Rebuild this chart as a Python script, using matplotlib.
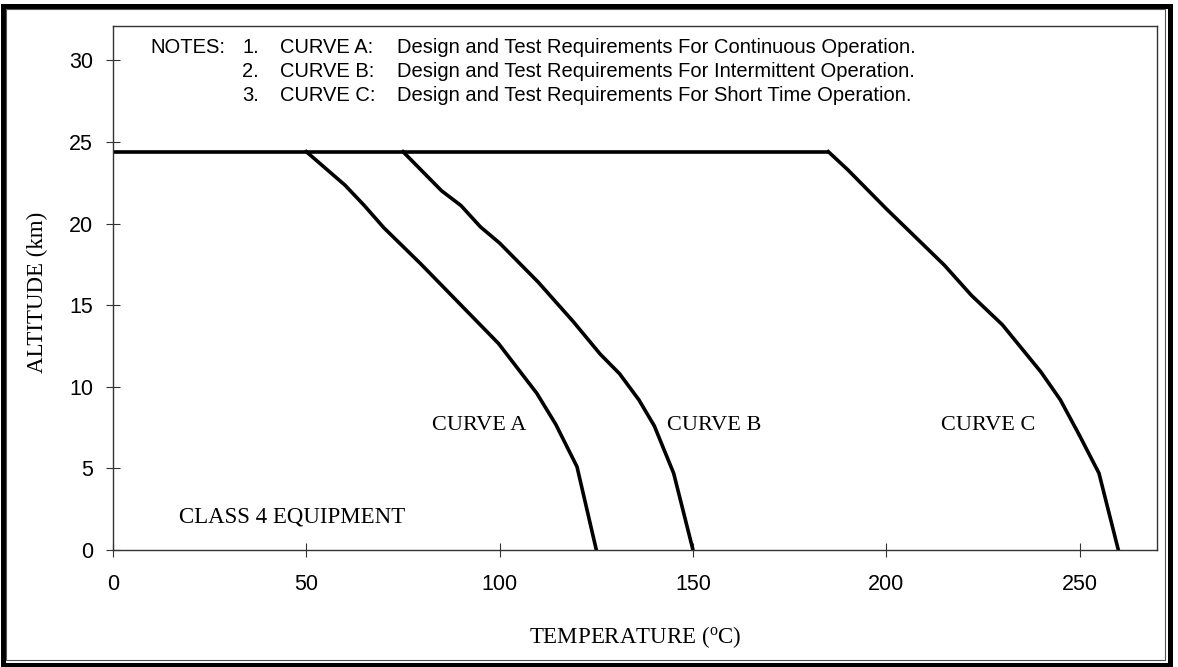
import matplotlib
matplotlib.use("Agg")
import matplotlib.pyplot as plt
from matplotlib.patches import Rectangle

# ---- data ----
plateau_alt = 24.4
plateau_temp = [0, 185]
curve_a_temp = [50, 60, 65, 70, 79.5, 99.7, 109.6, 114.5, 120, 125]
curve_a_alt = [24.4, 22.35, 21.1, 19.75, 17.55, 12.65, 9.6, 7.7, 5.1, 0]
curve_b_temp = [75, 80, 85, 90, 95, 100, 110, 119, 126, 131, 136, 140, 145, 150]
curve_b_alt = [24.4, 23.2, 22.0, 21.1, 19.8, 18.8, 16.4, 14.0, 12.0, 10.8, 9.2, 7.6, 4.7, 0]
curve_c_temp = [185, 190, 200, 215, 222, 230, 240, 245, 250, 255, 260]
curve_c_alt = [24.4, 23.3, 20.9, 17.45, 15.6, 13.8, 10.9, 9.2, 7.0, 4.7, 0]
x_ticks = [0, 50, 100, 150, 200, 250]
y_ticks = [0, 5, 10, 15, 20, 25, 30]
notes_num = ["1.", "2.", "3."]
notes_curve = ["CURVE A:", "CURVE B:", "CURVE C:"]
notes_text = ["Design and Test Requirements For Continuous Operation.",
              "Design and Test Requirements For Intermittent Operation.",
              "Design and Test Requirements For Short Time Operation."]

plt.rcParams['mathtext.fontset'] = 'custom'
plt.rcParams['mathtext.rm'] = 'Liberation Serif'

W, H = 1178, 667
fig = plt.figure(figsize=(W / 100, H / 100), dpi=100)
L, R, T, B = 113, 1157, 26, 550
ax = fig.add_axes([L / W, 1 - B / H, (R - L) / W, (B - T) / H])
ax.set_xlim(0, 270)
ax.set_ylim(0, 32.1)

lw = 2.6
ax.plot(plateau_temp, [plateau_alt, plateau_alt], color='black', lw=lw, solid_capstyle='butt', clip_on=False)
ax.plot(curve_a_temp, curve_a_alt, color='black', lw=lw, solid_joinstyle='miter')
ax.plot(curve_b_temp, curve_b_alt, color='black', lw=lw, solid_joinstyle='miter')
ax.plot(curve_c_temp, curve_c_alt, color='black', lw=lw, solid_joinstyle='miter')

ax.set_xticks(x_ticks)
ax.set_yticks(y_ticks)
ax.tick_params(direction='inout', length=10.5, width=0.8, color='#333333',
               labelsize=15.5)
ax.tick_params(axis='x', pad=12.0)
ax.tick_params(axis='y', pad=9.0)
for lab in ax.get_xticklabels() + ax.get_yticklabels():
    lab.set_fontfamily('Liberation Sans')
for s in ax.spines.values():
    s.set_linewidth(1.0)
    s.set_color('#333333')

serif = 'Liberation Serif'
sans = 'Liberation Sans'
ax.text(82.4, 7.35, "CURVE A", fontsize=16, family=serif, va='baseline', ha='left')
ax.text(143.3, 7.35, "CURVE B", fontsize=16, family=serif, va='baseline', ha='left')
ax.text(214.1, 7.35, "CURVE C", fontsize=16, family=serif, va='baseline', ha='left')
ax.text(17.1, 1.67, "CLASS 4 EQUIPMENT", fontsize=16.5, family=serif, va='baseline', ha='left')

nfs = 14.5
rows_y = [30.43, 28.95, 27.5]
ax.text(9.6, rows_y[0], "NOTES:", fontsize=nfs, family=sans, va='baseline')
for i in range(3):
    ax.text(33.4, rows_y[i], notes_num[i], fontsize=nfs, family=sans, va='baseline')
    ax.text(43.2, rows_y[i], notes_curve[i], fontsize=nfs, family=sans, va='baseline')
    ax.text(73.5, rows_y[i], notes_text[i], fontsize=nfs, family=sans, va='baseline')

fig.text(37 / W, 1 - 292 / H, "ALTITUDE (km)", rotation=90, fontsize=16.5, family=serif,
         ha='center', va='center')
fig.text(635 / W, 1 - 643 / H, r"TEMPERATURE ($\mathrm{^{o}}$C)", fontsize=16.5, family=serif,
         ha='center', va='baseline')

# chart border
fig.add_artist(Rectangle((2.5 / W, 2.5 / H), (1170 - 2.5) / W, (661 - 2.5) / H,
                         transform=fig.transFigure, fill=False, lw=3.6, edgecolor='black'))
fig.add_artist(Rectangle((6 / W, 7 / H), (1165 - 6) / W, (658 - 7) / H,
                         transform=fig.transFigure, fill=False, lw=0.8, edgecolor='#555555'))

fig.savefig("out.png", dpi=100)
